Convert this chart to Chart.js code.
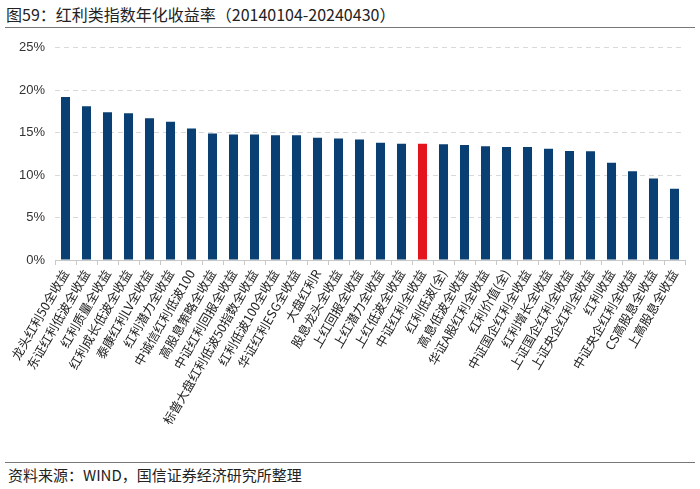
<!DOCTYPE html>
<html>
<head>
<meta charset="utf-8">
<script src="https://cdn.jsdelivr.net/npm/chart.js"></script>
<style>
  body { margin: 0; width: 700px; height: 489px; background: #fff; font-family: "Noto Sans CJK SC", "Liberation Sans", sans-serif; position: relative; overflow: hidden; }
  .title { position: absolute; left: 6px; top: 2px; font-size: 16px; color: #222; }
  .topline { position: absolute; left: 5px; right: 5px; top: 27px; border-top: 1px solid #777; }
  .wrap { position: absolute; left: 0; top: 30px; width: 700px; height: 430px; }
  .botline { position: absolute; left: 5px; right: 5px; top: 462px; border-top: 1px solid #777; }
  .source { position: absolute; left: 8px; top: 464px; font-size: 15px; color: #222; }
</style>
</head>
<body>
<div class="title">图59：红利类指数年化收益率（20140104-20240430）</div>
<div class="topline"></div>
<div class="wrap"><canvas id="c" width="700" height="430"></canvas></div>
<div class="botline"></div>
<div class="source">资料来源：WIND，国信证券经济研究所整理</div>
<script>
// 指数名称
const categories = [
  '龙头红利50全收益', '东证红利低波全收益', '红利质量全收益', '红利成长低波全收益', '泰康红利LV全收益',
  '红利潜力全收益', '中诚信红利低波100', '高股息策略全收益', '中证红利回报全收益', '标普大盘红利低波50指数全收益',
  '红利低波100全收益', '华证红利ESG全收益', '大盘红利R', '股息龙头全收益', '上红回报全收益',
  '上红潜力全收益', '上红低波全收益', '中证红利全收益', '红利低波(全)', '高息低波全收益',
  '华证A股红利全收益', '红利价值(全)', '中证国企红利全收益', '红利增长全收益', '上证国企红利全收益',
  '上证央企红利全收益', '红利收益', '中证央企红利全收益', 'CS高股息全收益', '上高股息全收益'
];
// 年化收益率 (%)
const returns = [
  19.2, 18.1, 17.4, 17.3, 16.7,
  16.3, 15.5, 14.9, 14.8, 14.8,
  14.7, 14.7, 14.4, 14.3, 14.2,
  13.8, 13.7, 13.7, 13.65, 13.55,
  13.4, 13.3, 13.3, 13.1, 12.85,
  12.8, 11.45, 10.45, 9.6, 8.4
];
const highlight = '中证红利全收益';
const yTicks = [0, 5, 10, 15, 20, 25];

const navy = '#0a3f73';
const red = '#e3141d';

new Chart(document.getElementById('c'), {
  type: 'bar',
  data: {
    labels: categories,
    datasets: [{
      data: returns,
      backgroundColor: categories.map(c => c === highlight ? red : navy),
      barPercentage: 0.43,
      categoryPercentage: 1.0
    }]
  },
  options: {
    responsive: false,
    animation: false,
    events: [],
    layout: { padding: { left: 5, right: 15, top: 14, bottom: 0 } },
    plugins: { legend: { display: false }, tooltip: { enabled: false } },
    scales: {
      x: {
        grid: { offset: true, drawOnChartArea: false, drawTicks: true, tickLength: 5, color: '#c8c8c8' },
        border: { display: true, color: '#c8c8c8' },
        ticks: {
          autoSkip: false, maxRotation: 60, minRotation: 60, padding: 2,
          color: '#222', font: { family: '"Noto Sans CJK SC", sans-serif', size: 12.5 }
        },
        afterFit: s => { s.height = 200; }
      },
      y: {
        min: 0, max: 25,
        afterBuildTicks: s => { s.ticks = yTicks.map(v => ({ value: v })); },
        grid: {
          color: ctx => ctx.tick && ctx.tick.value === 0 ? 'rgba(0,0,0,0)' : '#d9d9d9',
          drawTicks: false
        },
        border: { display: false, dash: [5, 4] },
        ticks: {
          padding: 10, color: '#333',
          font: { family: '"Liberation Sans", Arial, sans-serif', size: 13 },
          callback: v => v + '%'
        },
        afterFit: s => { s.width = 50; }
      }
    }
  }
});
</script>
</body>
</html>
